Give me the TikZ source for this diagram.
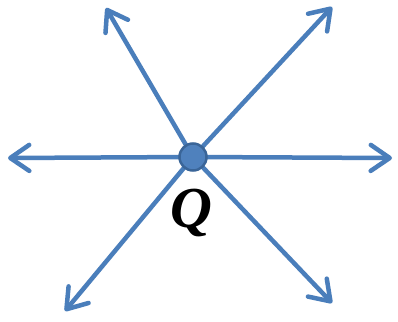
\documentclass[tikz,border=0pt]{standalone}
\usepackage{fontspec}
\setmainfont{Liberation Serif}
\usetikzlibrary{arrows.meta}
\definecolor{rayblue}{HTML}{4A7EBB}
\definecolor{dotfill}{HTML}{4F81BD}
\definecolor{dotline}{HTML}{3A6598}
\tikzset{
  ray/.style={draw=rayblue, line width=4.5pt, line cap=round,
    -{Straight Barb[length=19pt, width=26pt, line width=4.5pt, round]}},
  qdot/.style={circle, fill=dotfill, draw=dotline, line width=2.5pt, minimum size=27pt, inner sep=0pt},
  qlabel/.style={font=\fontsize{58}{58}\selectfont\bfseries\itshape, anchor=base, inner sep=0pt}
}
\begin{document}
\begin{tikzpicture}[x=1pt,y=-1pt]
\useasboundingbox (0,0) rectangle (398,321);
\fill[white] (0,0) rectangle (398,321);
\coordinate (q) at (193,157);
\coordinate (eL) at (8,158);
\coordinate (eR) at (392,158);
\coordinate (eUL) at (106,8);
\coordinate (eUR) at (332,7);
\coordinate (eLL) at (65,311);
\coordinate (eLR) at (332,303);
\foreach \e in {eL,eR,eUL,eUR,eLL,eLR} \draw[ray] (q) -- (\e);
\node[qdot] (Q) at (q) {};
\node[qlabel] (lab) at (191,227) {Q};
\end{tikzpicture}
\end{document}
